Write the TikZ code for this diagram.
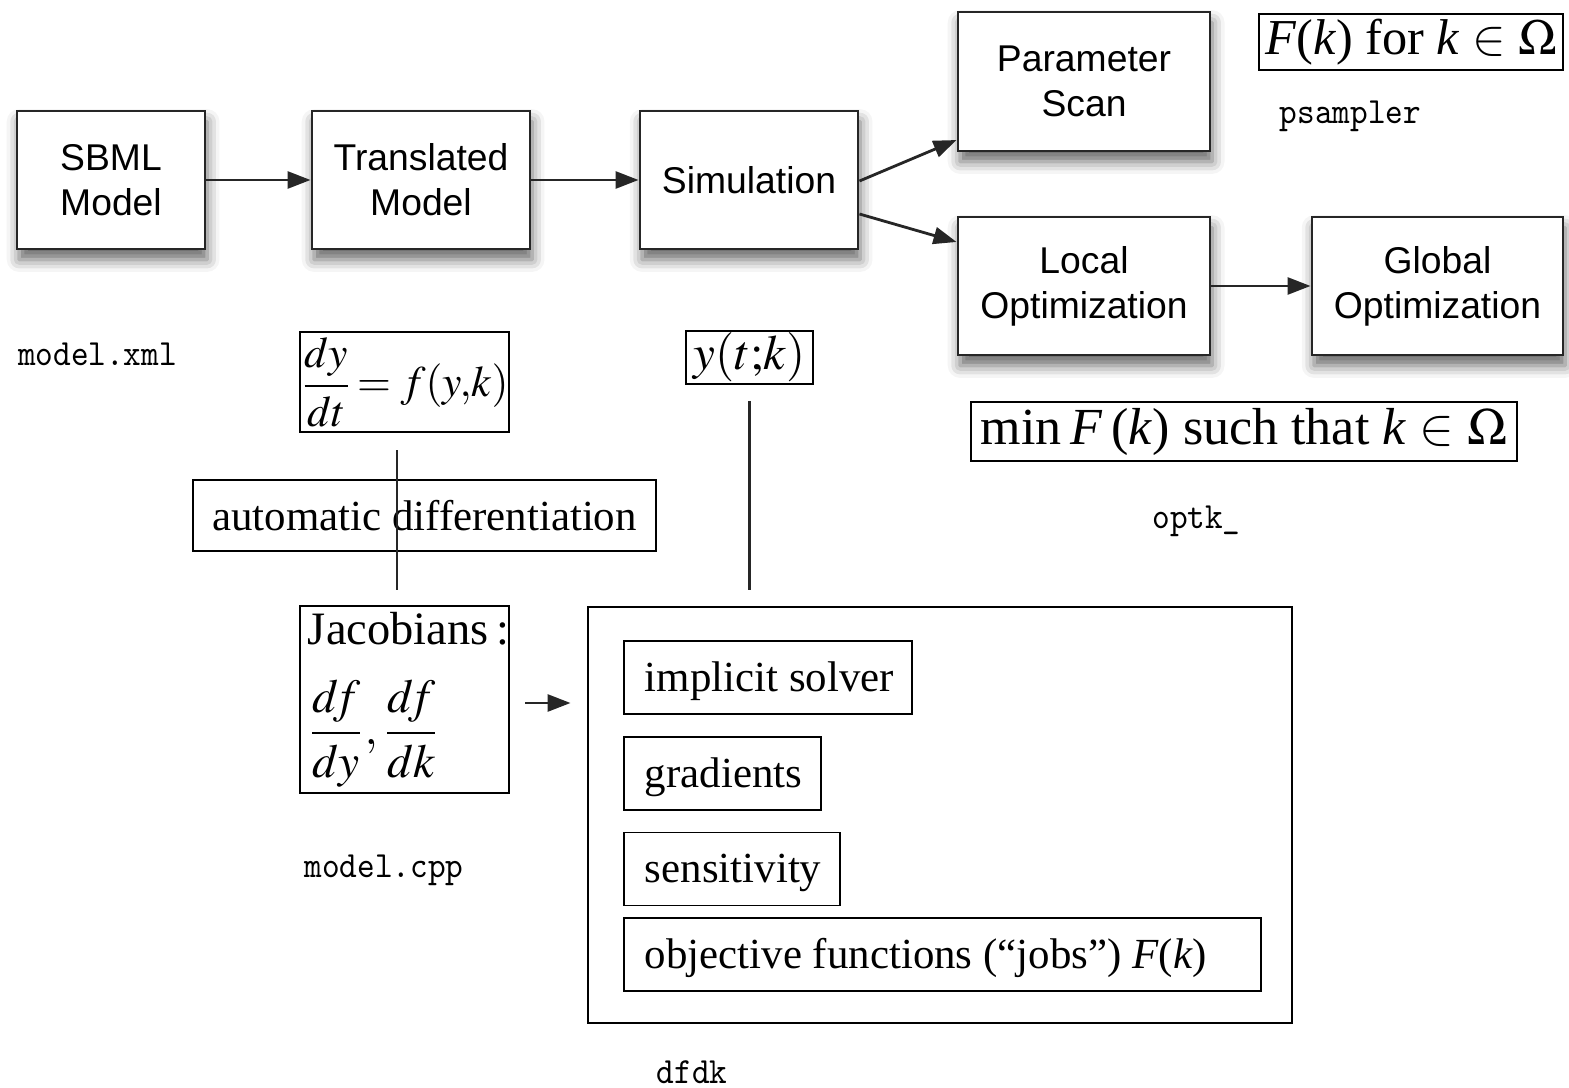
\documentclass[tikz,border=0pt]{standalone}
\usepackage{mathptmx}
\usepackage{graphicx}
\usepackage{fontspec}
\setmainfont{Liberation Serif}
\setsansfont{Liberation Sans}
\usetikzlibrary{arrows.meta,shadows.blur,calc}
\begin{document}
\begin{tikzpicture}[x=0.01cm,y=-0.01cm,
  flow/.style={draw=black!85, line width=0.8pt, fill=white, align=center,
    font=\sffamily\fontsize{10.6}{12.8}\selectfont, minimum height=1.38cm,
    blur shadow={shadow xshift=0.6pt, shadow yshift=-3pt, shadow blur radius=3.5pt, shadow opacity=60}},
  eq/.style={draw, line width=0.55pt, inner sep=0pt, font=\fontsize{14.5}{17}\selectfont},
  txt/.style={draw, line width=0.55pt, inner sep=0pt, font=\fontsize{12.2}{14}\selectfont},
  item/.style={txt, anchor=west, minimum height=0.73cm, inner xsep=0.21cm, text height=0.5cm, text depth=0.23cm},
  code/.style={anchor=base, inner sep=0pt, font=\ttfamily\fontsize{10.5}{12}\selectfont},
  conn/.style={line width=0.8pt, draw=black!85},
  tip/.style={-{Triangle[length=0.23cm,width=0.17cm]}}
]
\useasboundingbox (0,0) rectangle (1569,1088);

% top flow
\node[flow, minimum width=1.88cm] (sbml) at (111,180) {SBML\\Model};
\node[flow, minimum width=2.18cm] (trans) at (421,180) {Translated\\Model};
\node[flow, minimum width=2.18cm] (sim) at (749,180) {Simulation};
\node[flow, minimum width=2.52cm, minimum height=1.39cm] (scan) at (1084,81.5) {Parameter\\Scan};
\node[flow, minimum width=2.52cm] (local) at (1084,286) {Local\\Optimization};
\node[flow, minimum width=2.51cm] (global) at (1437.5,286) {Global\\Optimization};

\draw[conn,tip] (sbml) -- (trans);
\draw[conn,tip] (trans) -- (sim);
\draw[conn,tip] ([yshift=-0.01cm]sim.east) -- ([yshift=-0.585cm]scan.west);
\draw[conn,tip] ([yshift=-0.34cm]sim.east) -- ([yshift=0.44cm]local.west);
\draw[conn,tip] (local) -- (global);

% code labels
\node[code] (lxml) at (97.5,366) {\scalebox{0.91}[1]{model.xml}};
\node[code] (lps) at (1350.5,124) {\scalebox{0.91}[1]{psampler}};
\node[code] (lopt) at (1196.5,528) {\scalebox{0.91}[1]{optk\_}};
\node[code] (lcpp) at (384,877) {\scalebox{0.91}[1]{model.cpp}};
\node[code] (ldf) at (692,1083) {\scalebox{0.91}[1]{dfdk}};

% formula boxes
\node[eq, minimum width=3.04cm, minimum height=0.56cm, font=\fontsize{14.3}{17}\selectfont] (fk) at (1411,42)
  {\textit{F}(\textit{k}) for \textit{k}\ $\in$\ $\Omega$};
\node[eq, minimum width=5.46cm, minimum height=0.59cm, font=\fontsize{14.8}{18}\selectfont] (minf) at (1244,431.5)
  {min\,\textit{F}\,(\textit{k}) such that \textit{k}\ $\in$\ $\Omega$};
\node[eq, minimum width=2.09cm, minimum height=1cm, font=\fontsize{12.4}{15}\selectfont] (ode) at (404.5,382)
  {$\displaystyle\frac{dy}{dt}\,{=}\;f(y,\!k)$};
\node[eq, minimum width=1.27cm, minimum height=0.53cm, font=\fontsize{14}{17}\selectfont] (ytk) at (749.5,357.5) {$y(t;\!k)$};
\node[txt, minimum width=4.63cm, minimum height=0.71cm] (ad) at (424.5,515.5) {automatic differentiation};
\node[eq, text width=1.93cm, inner xsep=0.08cm, minimum height=1.87cm, align=left, font=\fontsize{13.5}{16}\selectfont] (jac) at (404.5,699.5)
  {{\fontsize{13.2}{15}\selectfont Jacobians\,:}\\[9pt] $\displaystyle\frac{d\!f}{dy},\frac{d\!f}{dk}$};

% big box
\node[draw, line width=0.7pt, minimum width=7.04cm, minimum height=4.16cm] (big) at (940,815) {};
\node[item] (impl) at (623,677.5) {\makebox[2.46cm][l]{implicit solver}};
\node[item] (grad) at (623,773.5) {\makebox[1.55cm][l]{gradients}};
\node[item] (sens) at (623,869) {\makebox[1.74cm][l]{sensitivity}};
\node[item] (obj) at (623,954.5) {\makebox[5.95cm][l]{objective functions (“jobs”) \textit{F}(\textit{k})}};

% connectors
\draw[conn] ([xshift=-0.075cm,yshift=-0.17cm]ode.south) -- ([xshift=-0.075cm,yshift=0.15cm]jac.north);
\coordinate (ybot) at (ytk.south |- big.north);
\draw[conn] ([yshift=-0.16cm]ytk.south) -- ([yshift=0.16cm]ybot);
\coordinate (jstart) at ([xshift=0.15cm,yshift=-0.035cm]jac.east);
\coordinate (jend) at (jstart -| big.west);
\draw[conn,tip] (jstart) -- ([xshift=-0.16cm]jend);
\end{tikzpicture}
\end{document}
